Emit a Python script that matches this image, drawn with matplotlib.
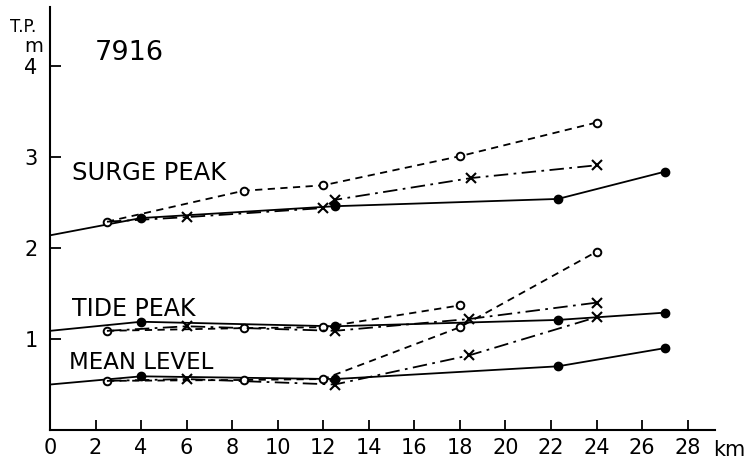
"""
NIVELES A LO LARGO DEL RIO - 7916
"""
import numpy as np
import matplotlib
matplotlib.use("Agg")
from matplotlib import pyplot as plt

# ---- DATOS (km , m T.P.) ----
# SURGE PEAK
surge_km_sol = [0, 4, 12.5, 22.3, 27]
surge_sol = [2.14, 2.33, 2.46, 2.54, 2.84]
surge_km_cir = [2.5, 8.5, 12, 18, 24]
surge_cir = [2.29, 2.63, 2.69, 3.01, 3.38]
surge_km_x = [2.5, 6, 12, 12.5, 18.5, 24]
surge_x = [2.29, 2.34, 2.44, 2.53, 2.77, 2.91]

# TIDE PEAK
tide_km_sol = [0, 4, 12.5, 22.3, 27]
tide_sol = [1.09, 1.19, 1.14, 1.21, 1.29]
tide_km_cir = [2.5, 8.5, 12, 18]
tide_cir = [1.09, 1.12, 1.13, 1.37]
tide_km_x = [2.5, 6, 12.5, 18.4, 24]
tide_x = [1.09, 1.14, 1.09, 1.22, 1.40]

# MEAN LEVEL
mean_km_sol = [0, 4, 12.5, 22.3, 27]
mean_sol = [0.50, 0.59, 0.56, 0.70, 0.90]
mean_km_cir = [2.5, 8.5, 12, 18, 24]
mean_cir = [0.54, 0.55, 0.56, 1.13, 1.96]
mean_km_x = [2.5, 6, 12.5, 18.4, 24]
mean_x = [0.54, 0.56, 0.50, 0.82, 1.24]

xticks = list(range(0, 30, 2))
yticks = [1, 2, 3, 4]

plt.rcParams['font.family'] = ['DejaVu Sans']

fig = plt.figure(figsize=(7.46, 4.66), dpi=100)
ax = fig.add_axes([50/746, 36/466, 665/746, 423/466])
ax.set_xlim(0, 29.2)
ax.set_ylim(0, 4.65)

k = 'black'
guion = (0, (4, 3))
guion_punto = (0, (8, 3, 1.5, 3))

# lineas continuas con puntos llenos (el punto en km 0 sin marca)
for xs, ys in [(surge_km_sol, surge_sol), (tide_km_sol, tide_sol), (mean_km_sol, mean_sol)]:
    ax.plot(xs, ys, color=k, lw=1.3, ls='-', marker='o', ms=6,
            markevery=list(range(1, len(xs))))

# lineas a trazos con circulos abiertos
for xs, ys in [(surge_km_cir, surge_cir), (tide_km_cir, tide_cir), (mean_km_cir, mean_cir)]:
    ax.plot(xs, ys, color=k, lw=1.3, ls=guion, marker='o', ms=5.5,
            mfc='white', mec=k, mew=1.4)

# lineas trazo-punto con cruces (la primera marca queda bajo el circulo)
for xs, ys in [(surge_km_x, surge_x), (tide_km_x, tide_x), (mean_km_x, mean_x)]:
    ax.plot(xs, ys, color=k, lw=1.3, ls=guion_punto, marker='x', ms=7,
            mew=1.5, markevery=list(range(1, len(xs))))

# ---- EJES ----
ax.spines['top'].set_visible(False)
ax.spines['right'].set_visible(False)
ax.spines['left'].set_linewidth(1.5)
ax.spines['bottom'].set_linewidth(1.5)

ax.set_xticks(xticks)
ax.set_xticklabels([str(v) for v in xticks], fontsize=15)
ax.set_yticks(yticks)
ax.set_yticklabels([str(v) for v in yticks], fontsize=15)
ax.tick_params(axis='x', direction='in', length=7, width=1.3, pad=6)
ax.tick_params(axis='y', direction='in', length=8, width=1.3, pad=9)
ax.xaxis.get_major_ticks()[0].tick1line.set_visible(False)

# ---- TEXTOS ----
fig.text(745/746, 1 - 450/466, "km", fontsize=15, ha='right', va='center')
fig.text(23/746, 1 - 27/466, "T.P.", fontsize=12, ha='center', va='center')
fig.text(34/746, 1 - 47/466, "m", fontsize=14, ha='center', va='center')
ax.text(1.95, 4.14, "7916", fontsize=19.5, ha='left', va='center')
ax.text(0.95, 2.82, "SURGE PEAK", fontsize=17.5, ha='left', va='center')
ax.text(0.95, 1.335, "TIDE PEAK", fontsize=17, ha='left', va='center')
ax.text(0.85, 0.742, "MEAN LEVEL", fontsize=16.5, ha='left', va='center')

plt.savefig("out.png", dpi=100)
